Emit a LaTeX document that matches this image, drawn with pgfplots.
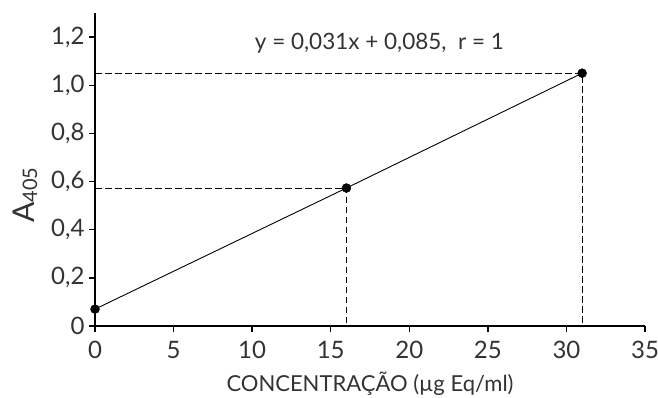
\documentclass[border=0pt]{standalone}
\usepackage{pgfplots}
\pgfplotsset{compat=1.18}
\usepackage{fontspec}
\setmainfont{Lato}
\definecolor{txt}{HTML}{333333}
\begin{document}
\begin{tikzpicture}[x=1pt,y=1pt]
\path[use as bounding box] (0,0) rectangle (658,398);
\begin{axis}[
  at={(95pt,72pt)}, anchor=south west,
  scale only axis, width=550pt, height=313pt,
  xmin=0, xmax=35, ymin=0, ymax=1.3,
  axis x line*=bottom, axis y line*=left,
  axis line style={line width=1.6pt, black},
  tick align=outside, major tick length=6pt,
  tick style={line width=1.4pt, black},
  xtick={0,5,...,35},
  ytick={0,0.2,0.4,0.6,0.8,1.0,1.2},
  yticklabels={0,{0,2},{0,4},{0,6},{0,8},{1,0},{1,2}},
  /pgf/number format/assume math mode=true,
  ticklabel style={font=\fontsize{24}{28}\selectfont, text=txt},
  xticklabel style={yshift=-6pt},
  yticklabel style={xshift=-1pt},
  xlabel={CONCENTRAÇÃO (µg Eq/ml)},
  xlabel style={font=\fontsize{22}{26}\selectfont, text=txt, yshift=-6pt},
  clip=false,
]
\addplot[black, line width=0.9pt] coordinates {(0,0.07) (16,0.573) (31,1.05)};
\addplot[black, line width=0.9pt, dash pattern=on 6.5pt off 3.5pt] coordinates {(0,1.05) (31,1.05) (31,0)};
\addplot[black, line width=0.9pt, dash pattern=on 6.5pt off 3.5pt] coordinates {(0,0.573) (16,0.573) (16,0)};
\addplot[only marks, mark=*, mark size=4.5pt, black] coordinates {(0,0.07) (16,0.573) (31,1.05)};
\node[font=\fontsize{22.5}{26}\selectfont, text=txt] at (axis cs:18.1,1.174) {y = 0,031x + 0,085,\ \ r = 1};
\end{axis}
\node[rotate=90, text=txt, font=\fontsize{30}{32}\selectfont] at (25,203) {A\raisebox{-3pt}{\fontsize{20}{22}\selectfont 405}};
\end{tikzpicture}
\end{document}
